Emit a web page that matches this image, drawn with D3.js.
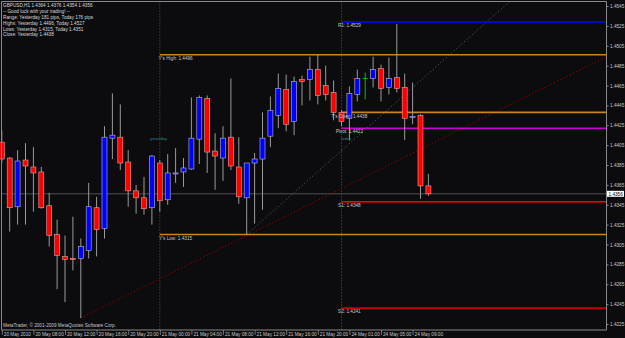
<!DOCTYPE html>
<html><head><meta charset="utf-8">
<script src="https://cdn.jsdelivr.net/npm/d3@7/dist/d3.min.js"></script>
<style>
html,body{margin:0;padding:0;background:#0c0c0f;}
svg{display:block;}
text{font-family:"Liberation Sans",Arial,sans-serif;}
</style>
</head><body>
<svg id="chart" width="625" height="338"></svg>
<script>
// ---------- DATA ----------
const infoLines = [
  "GBPUSD,H1  1.4364 1.4376 1.4354 1.4356",
  "-- Good luck with your trading! --",
  "Range: Yesterday 181 pips, Today 176 pips",
  "Highs: Yesterday 1.4496, Today 1.4527",
  "Lows: Yesterday 1.4315, Today 1.4351",
  "Close: Yesterday 1.4438"
];
const opens  = [1.4408,1.4392,1.4343,1.4390,1.4383,1.4378,1.4344,1.4315,1.4293,1.4291,
                1.4291,1.4299,1.4342,1.4321,1.4412,1.4413,1.4388,1.4359,1.4352,1.4342,
                1.4387,1.4350,1.4376,1.4378,1.4381,1.4411,1.4452,1.4399,1.4392,1.4413,
                1.4383,1.4352,1.4387,1.4391,1.4414,1.4435,1.4461,1.4429,1.4471,1.4471,
                1.4481,1.4465,1.4458,1.4438,1.4432,1.4456,1.4472,1.4472,1.4482,1.4463,
                1.4473,1.4463,1.4433,1.4435,1.4364];
const highs  = [1.4420,1.4393,1.4400,1.4407,1.4403,1.4383,1.4357,1.4330,1.4314,1.4333,
                1.4311,1.4367,1.4353,1.4424,1.4457,1.4446,1.4400,1.4365,1.4373,1.4395,
                1.4390,1.4396,1.4402,1.4392,1.4453,1.4455,1.4455,1.4417,1.4424,1.4472,
                1.4413,1.4387,1.4397,1.4438,1.4454,1.4477,1.4476,1.4474,1.4475,1.4494,
                1.4496,1.4485,1.4470,1.4440,1.4464,1.4481,1.4478,1.4494,1.4486,1.4493,
                1.4527,1.4477,1.4468,1.4436,1.4376];
const lows   = [1.4387,1.4318,1.4325,1.4325,1.4338,1.4341,1.4303,1.4260,1.4247,1.4279,
                1.4231,1.4291,1.4293,1.4311,1.4391,1.4380,1.4343,1.4336,1.4335,1.4325,
                1.4338,1.4345,1.4367,1.4363,1.4380,1.4386,1.4377,1.4360,1.4369,1.4380,
                1.4346,1.4315,1.4326,1.4340,1.4403,1.4422,1.4419,1.4415,1.4445,1.4450,
                1.4446,1.4450,1.4430,1.4424,1.4410,1.4449,1.4451,1.4463,1.4449,1.4456,
                1.4458,1.4410,1.4426,1.4351,1.4354];
const closes = [1.4391,1.4342,1.4389,1.4384,1.4377,1.4342,1.4314,1.4294,1.4290,1.4290,
                1.4303,1.4343,1.4320,1.4413,1.4415,1.4387,1.4359,1.4352,1.4341,1.4394,
                1.4349,1.4377,1.4377,1.4382,1.4412,1.4453,1.4398,1.4394,1.4412,1.4384,
                1.4353,1.4387,1.4391,1.4412,1.4440,1.4462,1.4426,1.4469,1.4469,1.4481,
                1.4455,1.4456,1.4438,1.4429,1.4457,1.4472,1.4472,1.4481,1.4462,1.4472,
                1.4462,1.4432,1.4434,1.4364,1.4356];

const priceTicks = [1.4545,1.4525,1.4505,1.4485,1.4465,1.4445,1.4425,1.4405,1.4385,
                    1.4365,1.4345,1.4325,1.4305,1.4285,1.4265,1.4245,1.4225];
const timeTickIdx = [0,4,8,12,16,20,24,28,32,36,40,44,48,52];
const timeTickLabels = ["20 May 2010","20 May 08:00","20 May 12:00","20 May 16:00","20 May 20:00",
  "21 May 00:00","21 May 04:00","21 May 08:00","21 May 12:00","21 May 16:00","21 May 20:00",
  "24 May 01:00","24 May 05:00","24 May 09:00"];
const daySeparators = [20, 43];

const levelNames    = ["R1","Y's High","T's Open","Pivot","S1","Y's Low","S2"];
const levelValues   = [1.4529,1.4496,1.4438,1.4422,1.4348,1.4315,1.4241];
const levelStartIdx = [43,20,43,43,43,20,43];
const levelLabelIdx = [44,22,44,44,44,22,44];

const bidPrice = 1.4356;
// trend lines: [index, price] anchors
const redTrend  = [[10,1.4231],[31,1.4314]];
const grayTrend = [[31,1.4315],[54,1.4477]];
const smallNotes = [["yesterday",18.8,1.4414],["today",43,1.4414]];

// ---------- STYLE ----------
const levelStyle = {
  "R1":{c:"#0000ff",w:1.6}, "Y's High":{c:"#c8851c",w:1.6}, "T's Open":{c:"#c8851c",w:1.6},
  "Pivot":{c:"#d000d0",w:1.4}, "S1":{c:"#ff0000",w:1.4}, "Y's Low":{c:"#c8851c",w:1.6},
  "S2":{c:"#ff0000",w:1.4}
};
const L = 1.5, R = 606.5, T = 1.5, B = 330;

const svg = d3.select("#chart");
svg.append("rect").attr("width",625).attr("height",338).attr("fill","#0c0c0f");

const y = d3.scaleLinear().domain([1.4225,1.4545]).range([324,6]);
const x = d3.scaleLinear().domain([0,54]).range([1.8,428.4]);

svg.append("defs").append("clipPath").attr("id","plot")
  .append("rect").attr("x",0).attr("y",T).attr("width",R).attr("height",B-T);
const g = svg.append("g").attr("clip-path","url(#plot)");

// day separators
g.selectAll(".sep").data(daySeparators).enter().append("line")
  .attr("x1",d=>x(d)).attr("x2",d=>x(d)).attr("y1",T).attr("y2",B)
  .attr("stroke","#707070").attr("stroke-width",0.8).attr("stroke-dasharray","1,2");

// bid line
g.append("line").attr("x1",L).attr("x2",R).attr("y1",y(bidPrice)).attr("y2",y(bidPrice))
  .attr("stroke","#4c5158").attr("stroke-width",1);

// trend lines
function trend(a, b, color, dash){
  const x1=x(a[0]), y1=y(a[1]), x2=x(b[0]), y2=y(b[1]);
  const s=(y2-y1)/(x2-x1);
  g.append("line").attr("x1",x1).attr("y1",y1).attr("x2",R).attr("y2",y1+s*(R-x1))
    .attr("stroke",color).attr("stroke-width",1).attr("stroke-dasharray",dash);
}
trend(redTrend[0], redTrend[1], "#a00000", "1.2,2.3");
trend(grayTrend[0], grayTrend[1], "#5a5a5a", "1.2,2.3");

// levels
const lv = levelNames.map((n,i)=>({n, v:levelValues[i], s:levelStartIdx[i], li:levelLabelIdx[i]}));
g.selectAll(".lvl").data(lv).enter().append("line")
  .attr("x1",d=>x(d.s)).attr("x2",R).attr("y1",d=>y(d.v)).attr("y2",d=>y(d.v))
  .attr("stroke",d=>levelStyle[d.n].c).attr("stroke-width",d=>levelStyle[d.n].w);

// candles
const bars = opens.map((o,i)=>({i,o,h:highs[i],l:lows[i],c:closes[i]}));
g.selectAll(".wick").data(bars).enter().append("line")
  .attr("x1",d=>x(d.i)).attr("x2",d=>x(d.i)).attr("y1",d=>y(d.h)).attr("y2",d=>y(d.l))
  .attr("stroke",d=>d.o===d.c?"#00c000":"#9a9a9a").attr("stroke-width",1);
g.selectAll(".body").data(bars.filter(d=>d.o!==d.c)).enter().append("rect")
  .attr("x",d=>x(d.i)-2.5).attr("width",5)
  .attr("y",d=>y(Math.max(d.o,d.c)))
  .attr("height",d=>Math.max(1,Math.abs(y(d.o)-y(d.c))))
  .attr("fill",d=>d.c<d.o?"#ff0000":"#0000ff")
  .attr("stroke",d=>d.c<d.o?"#e8a0a0":"#b8b8d8").attr("stroke-width",0.6);
g.selectAll(".doji").data(bars.filter(d=>d.o===d.c)).enter().append("line")
  .attr("x1",d=>x(d.i)-2.5).attr("x2",d=>x(d.i)+2.5).attr("y1",d=>y(d.o)).attr("y2",d=>y(d.o))
  .attr("stroke","#00c000").attr("stroke-width",1);

// level labels
g.selectAll(".lbl").data(lv).enter().append("text")
  .attr("x",d=>x(d.li)).attr("y",d=>y(d.v)+5.2).attr("text-anchor","middle")
  .attr("font-size",4.7).attr("fill","#c8c8c8")
  .text(d=>d.n+": "+d3.format(".4f")(d.v));
g.selectAll(".note").data(smallNotes).enter().append("text")
  .attr("x",d=>x(d[1])).attr("y",d=>y(d[2])+4).attr("font-size",3.8).attr("fill","#2f8a9a")
  .text(d=>d[0]);

// info text
svg.selectAll(".info").data(infoLines).enter().append("text")
  .attr("x",3).attr("y",(d,i)=>7.4+i*5.8).attr("font-size",4.7).attr("fill","#d8d8d8")
  .text(d=>d);
svg.append("text").attr("x",3).attr("y",326.5).attr("font-size",4.7).attr("fill","#c8c8c8")
  .text("MetaTrader, \u00a9 2001-2009 MetaQuotes Software Corp.");

// frame
svg.append("path").attr("d",`M${L},${B}V${T}H${R}`).attr("fill","none")
  .attr("stroke","#8a8a8a").attr("stroke-width",1);

// right axis
const ya = svg.append("g").attr("transform",`translate(${R},0)`)
  .call(d3.axisRight(y).tickValues(priceTicks).tickFormat(d3.format(".4f")).tickSize(2).tickPadding(1.5));
ya.select(".domain").attr("d",`M0,${T}V${B}`).attr("stroke","#8a8a8a");
ya.selectAll(".tick line").attr("stroke","#8a8a8a");
ya.selectAll("text").attr("font-size",4.7).attr("fill","#c8c8c8").attr("font-family","Liberation Sans, Arial, sans-serif");

// bid label
svg.append("rect").attr("x",R+0.5).attr("y",y(bidPrice)-3).attr("width",17).attr("height",6).attr("fill","#ffffff");
svg.append("text").attr("x",R+2).attr("y",y(bidPrice)+1.7).attr("font-size",4.7).attr("fill","#000")
  .text(d3.format(".4f")(bidPrice));

// bottom axis
const xa = svg.append("g").attr("transform",`translate(0,${B})`)
  .call(d3.axisBottom(x).tickValues(timeTickIdx).tickFormat((d,i)=>timeTickLabels[i]).tickSize(5));
xa.select(".domain").attr("d",`M${L},0H${R}`).attr("stroke","#8a8a8a");
xa.selectAll(".tick line").attr("stroke","#8a8a8a").attr("stroke-width",0.8);
xa.selectAll("text").attr("font-size",4.7).attr("fill","#c8c8c8").attr("text-anchor","start")
  .attr("x",1.5).attr("y",2.5).attr("dy","0.71em").attr("font-family","Liberation Sans, Arial, sans-serif");
</script>
</body></html>
